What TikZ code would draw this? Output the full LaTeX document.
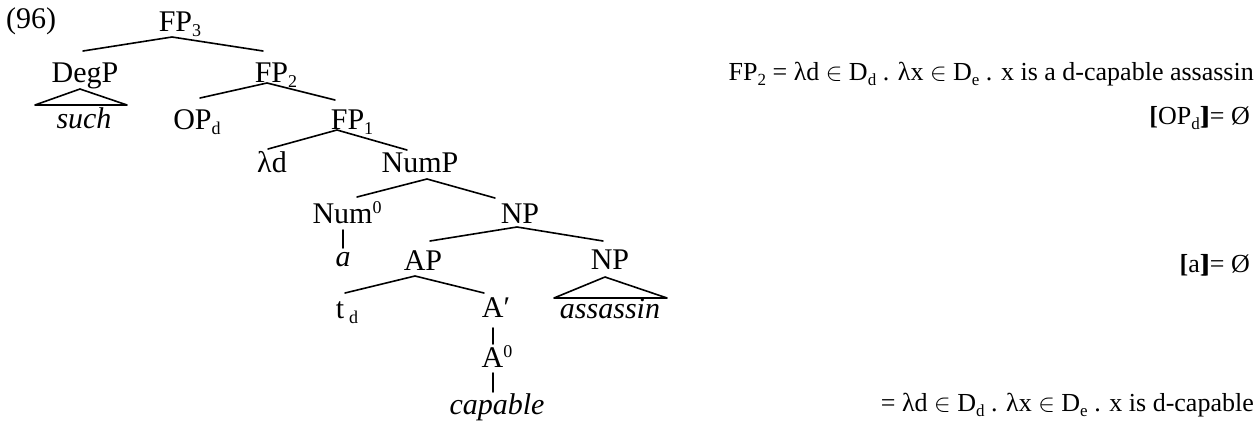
\documentclass[tikz,border=0pt]{standalone}
\usepackage{fontspec}
\setmainfont{Liberation Serif}
\usetikzlibrary{calc}
% lowered / raised small indices
\newcommand\lsub[1]{\raisebox{-5pt}{\fontsize{18}{18}\selectfont #1}}
\newcommand\lsup[1]{\raisebox{10pt}{\fontsize{18}{18}\selectfont #1}}
\newcommand\gsub[1]{\raisebox{-5pt}{\fontsize{17}{17}\selectfont #1}}
\newcommand\sem[1]{{\bfseries[}#1{\bfseries]\kern-0.28em]}}
\begin{document}
\begin{tikzpicture}[x=1pt,y=-1pt,
  lab/.style={inner sep=0pt,anchor=base,font=\fontsize{30}{32}\selectfont},
  gloss/.style={inner sep=0pt,anchor=base east,font=\fontsize{26}{28}\selectfont},
  br/.style={line width=1.6pt,line cap=round,line join=round}]
\useasboundingbox (0,0) rectangle (1257,420);

% example number
\node[lab,anchor=base west] (ex) at (6,29) {(96)};

% tree labels (placed at baseline centre)
\node[lab] (fp3)  at (180,32)  {FP\lsub{3}};
\node[lab] (degp) at (85,82)   {DegP};
\node[lab] (fp2)  at (276,82)  {FP\lsub{2}};
\node[lab] (such) at (84,128)  {\itshape such};
\node[lab] (op)   at (197,129) {OP\lsub{d}};
\node[lab] (fp1)  at (352,129) {FP\lsub{1}};
\node[lab] (lam)  at (272,172) {λd};
\node[lab] (nump) at (420,172) {NumP};
\node[lab] (num)  at (347,223) {Num\lsup{0}};
\node[lab] (np)   at (520,223) {NP};
\node[lab] (a)    at (343,266) {\itshape a};
\node[lab] (ap)   at (423,270) {AP};
\node[lab] (npb)  at (610,269) {NP};
\node[lab] (ass)  at (610,318) {\itshape assassin};
\node[lab] (t)    at (347,318) {t\,\lsub{d}};
\node[lab] (abar) at (496,317) {A′};
\node[lab] (a0)   at (497,367) {A\lsup{0}};
\node[lab] (cap)  at (497,414) {\itshape capable};

% branches
\draw[br] ($(degp.base)+(-2,-31)$) -- ($(fp3.base)+(-8,5)$) -- ($(fp2.base)+(-13,-31)$);
\draw[br] ($(op.base)+(3,-31)$) -- ($(fp2.base)+(-9,1)$) -- ($(fp1.base)+(-17,-29)$);
\draw[br] ($(lam.base)+(-4,-23)$) -- ($(fp1.base)+(-15,1)$) -- ($(nump.base)+(-13,-22)$);
\draw[br] ($(num.base)+(10,-26)$) -- ($(nump.base)+(7,7)$) -- ($(np.base)+(-25,-25)$);
\draw[br] ($(ap.base)+(7,-29)$) -- ($(np.base)+(-3,4)$) -- ($(npb.base)+(-7,-28)$);
\draw[br] ($(t.base)+(-2,-25)$) -- ($(ap.base)+(-8,6)$) -- ($(abar.base)+(-12,-24)$);
\draw[br] ($(num.base)+(-4,7)$) -- ($(a.base)+(0,-18)$);
\draw[br] ($(abar.base)+(-3,11)$) -- ($(a0.base)+(-4,-23)$);
\draw[br] ($(a0.base)+(-4,6)$) -- ($(cap.base)+(-4,-22)$);

% roof triangles
\draw[br] ($(degp.base)+(-5,7)$) -- ($(such.base)+(-49,-23)$) -- ($(such.base)+(43,-23)$) -- cycle;
\draw[br] ($(npb.base)+(-5,8)$) -- ($(ass.base)+(-56,-20)$) -- ($(ass.base)+(57,-20)$) -- cycle;

% denotations
\node[gloss] (g1) at (1254,81)  {FP\gsub{2} = λd $\in$\ D\gsub{d} . λx $\in$\ D\gsub{e} . x is a d-capable assassin};
\node[gloss] (g2) at (1250,124) {\sem{OP\gsub{d}}= Ø};
\node[gloss] (g3) at (1250,272) {\sem{a}= Ø};
\node[gloss] (g4) at (1254,411) {= λd $\in$\ D\gsub{d} . λx $\in$\ D\gsub{e} . x is d-capable};
\end{tikzpicture}
\end{document}
